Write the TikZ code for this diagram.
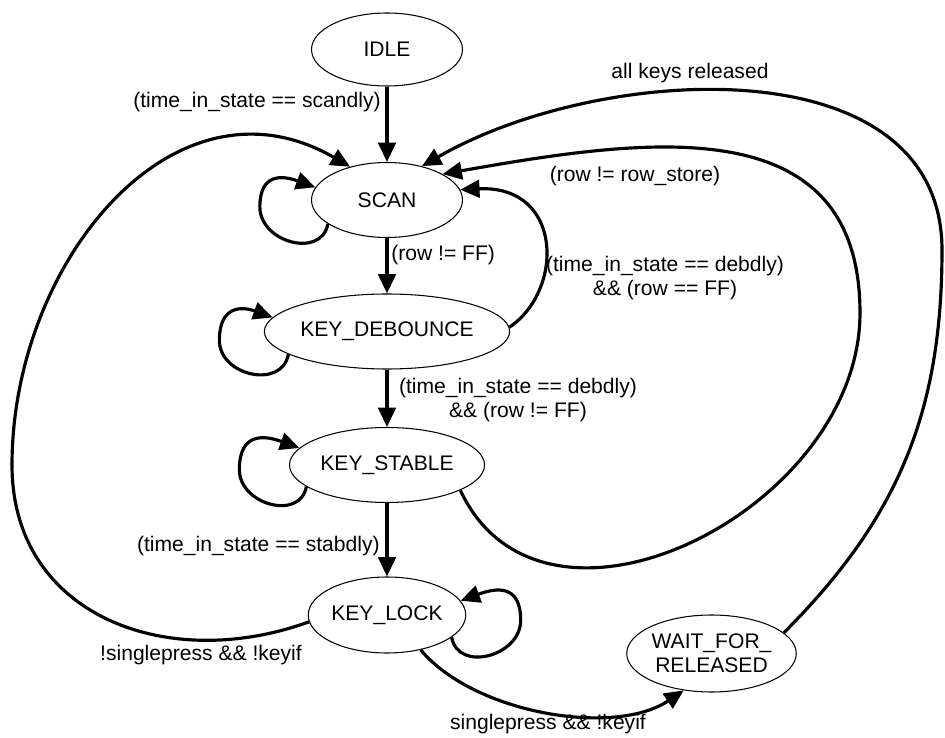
\documentclass[tikz,border=0pt]{standalone}
\usepackage{fontspec}
\setmainfont{Liberation Sans}
\usetikzlibrary{arrows.meta,shapes.geometric}
\tikzset{
  state/.style={draw=black, line width=0.6pt, ellipse, inner sep=0pt,
                minimum height=15mm, align=center,
                font=\fontsize{12pt}{13.7pt}\selectfont},
  trans/.style={-{Triangle[length=11pt,width=10pt]}, line width=1.8pt},
  cond/.style={align=center, inner sep=0pt,
               font=\fontsize{12pt}{13.7pt}\selectfont},
}
\begin{document}
\begin{tikzpicture}[x=1cm,y=1cm]
  \path[use as bounding box] (0,0) rectangle (18.9,14.74);

  % the states of the key scanner
  \node[state, minimum width=30.2mm, minimum height=14.6mm] (IDLE) at (7.74,13.75) {IDLE};
  \node[state, minimum width=30.2mm] (SCAN) at (7.74,10.74) {SCAN};
  \node[state, minimum width=45.4mm] (KEYDEB) at (7.74,8.11) {KEY\_DEBOUNCE};
  \node[state, minimum width=39mm] (KEYSTB) at (7.74,5.44) {KEY\_STABLE};
  \node[state, minimum width=30.6mm, minimum height=15.2mm] (KEYLCK) at (7.74,2.44) {KEY\_LOCK};
  \node[state, minimum width=30.6mm, minimum height=15.4mm] (WAIT) at (14.23,1.67)
    {WAIT\_FOR\_\\RELEASED};

  % way points of the long return arcs
  \coordinate (rs) at (17.20,8.48);
  \coordinate (ak) at (18.84,9.74);
  \coordinate (sp) at (0.24,5.44);

  % main chain down the middle
  \draw[trans] (IDLE) -- (SCAN);
  \node[cond, anchor=east] (cidle) at (7.62,12.70) {(time\_in\_state == scandly)};
  \draw[trans] (SCAN) -- (KEYDEB);
  \node[cond, anchor=west] (cscan) at (7.82,9.64) {(row != FF)};
  \draw[trans] (KEYDEB) -- (KEYSTB);
  \node[cond] (cdeb) at (10.36,6.74) {(time\_in\_state == debdly)\\\&\& (row != FF)};
  \draw[trans] (KEYSTB) -- (KEYLCK);
  \node[cond, anchor=east] (cstb) at (7.60,3.82) {(time\_in\_state == stabdly)};

  % self loops
  \draw[trans] (SCAN.-158) to[out=-100,in=-90,looseness=1.3] ++(-1.36,0.34)
    to[out=90,in=160,looseness=1.5] (SCAN.170);
  \draw[trans] (KEYDEB.-167) to[out=-100,in=-90,looseness=1.3] ++(-1.38,0.28)
    to[out=90,in=160,looseness=1.5] (KEYDEB.173);
  \draw[trans] (KEYSTB.-165) to[out=-100,in=-90,looseness=1.3] ++(-1.34,0.34)
    to[out=90,in=160,looseness=1.5] (KEYSTB.169);
  \draw[trans] (KEYLCK.-19) to[out=-80,in=-90,looseness=1.3] ++(1.38,0.34)
    to[out=90,in=20,looseness=1.5] (KEYLCK.11);

  % back to SCAN
  \draw[trans] (KEYDEB.2) .. controls +(1.10,0.74) and +(2.06,0.10) .. (SCAN.8);
  \node[cond] (cback) at (13.30,9.18) {(time\_in\_state == debdly)\\\&\& (row == FF)};
  \draw[trans] (KEYSTB.-19) to[out=-65,in=-90,looseness=1.15] (rs)
    to[out=90,in=10,looseness=1.2] (SCAN.25);
  \node[cond] (crow) at (12.70,11.22) {(row != row\_store)};
  \draw[trans] (WAIT.16) to[out=45,in=-90] (ak) to[out=90,in=30] (SCAN.44);
  \node[cond] (crel) at (13.80,13.28) {all keys released};
  \draw[trans] (KEYLCK.185) to[out=200,in=-90,looseness=1.15] (sp)
    to[out=90,in=150,looseness=1.15] (SCAN.138);
  \node[cond] (cnot) at (4.02,1.64) {!singlepress \&\& !keyif};

  % lock to wait
  \draw[trans] (KEYLCK.-46) to[out=-50,in=214,looseness=0.8] (WAIT.-127);
  \node[cond] (csgl) at (10.96,0.26) {singlepress \&\& !keyif};
\end{tikzpicture}
\end{document}
